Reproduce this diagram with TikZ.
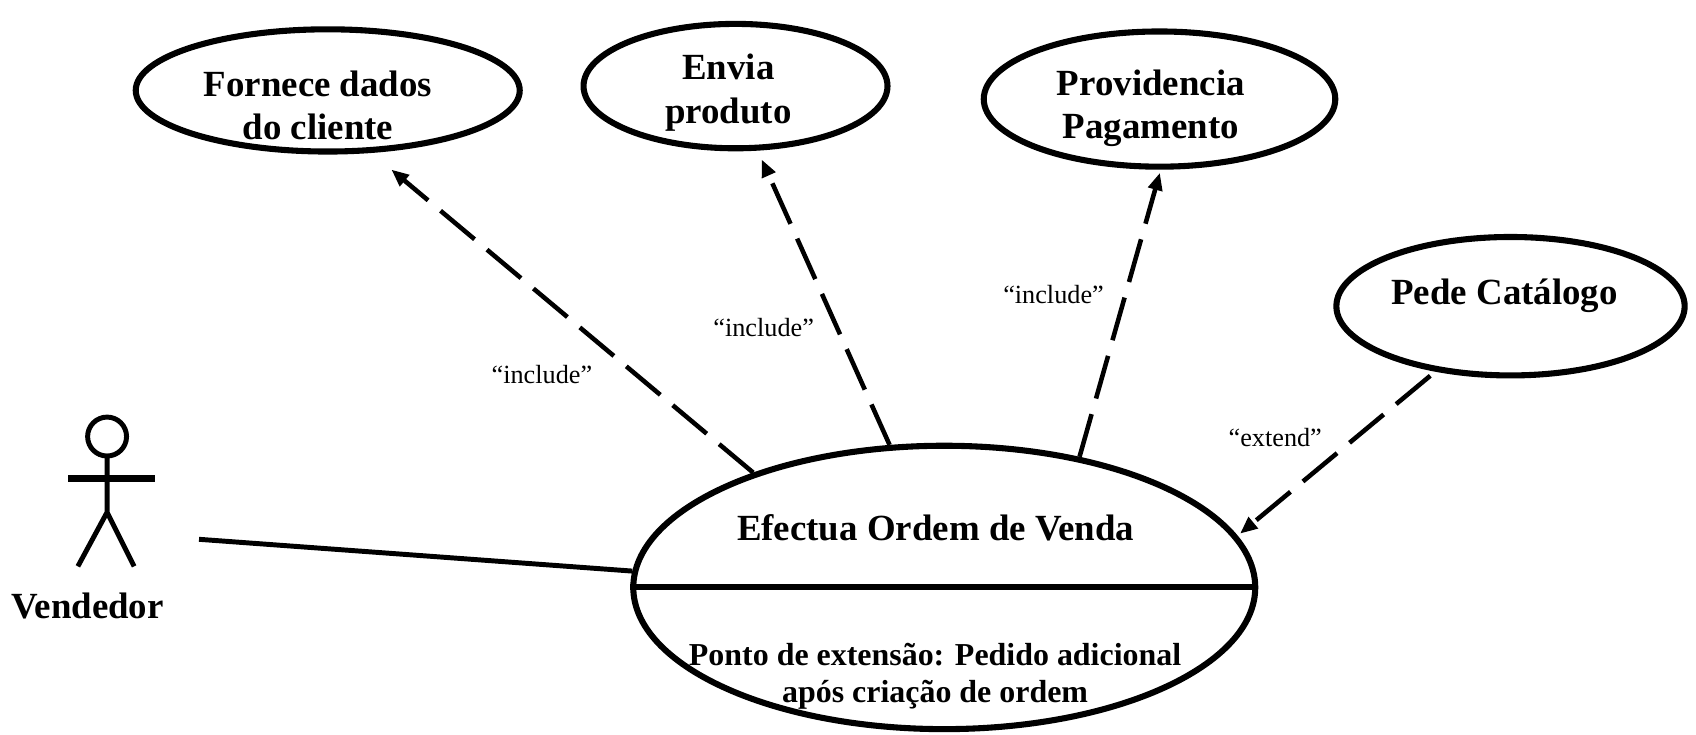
\documentclass[tikz,border=0pt]{standalone}
\usepackage{fontspec}
\setmainfont{Liberation Serif}
\usetikzlibrary{shapes.geometric,arrows.meta}
\begin{document}
\begin{tikzpicture}[
  caso/.style={draw, ellipse, line width=1.6pt, inner sep=0pt},
  titulo/.style={font=\fontsize{9.7}{11.4}\selectfont\bfseries, align=center},
  inclui/.style={line width=1.2pt, dash pattern=on 0.41cm off 0.15cm, -{Triangle[length=0.16cm,width=0.13cm]}},
  estereo/.style={font=\fontsize{6.9}{8}\selectfont},
  ]
\useasboundingbox (0,0) rectangle (15.68,6.786);

\node[caso, minimum width=3.55cm, minimum height=1.13cm] (fornece) at (3.03,5.95) {};
\node[caso, minimum width=2.81cm, minimum height=1.15cm] (envia) at (6.80,5.99) {};
\node[caso, minimum width=3.25cm, minimum height=1.25cm] (pagamento) at (10.72,5.87) {};
\node[caso, minimum width=3.22cm, minimum height=1.28cm] (catalogo) at (13.965,3.955) {};
\node[caso, minimum width=5.75cm, minimum height=2.62cm] (ordem) at (8.73,1.355) {};
\draw[line width=1.6pt] (ordem.west) -- (ordem.east);

\node[titulo] (tfornece) at (2.94,5.81) {Fornece dados\\do cliente};
\node[titulo] (tenvia) at (6.735,5.93) {Envia\\produto};
\node[titulo] (tpagamento) at (10.64,5.785) {Providencia\\Pagamento};
\node[titulo] (tcatalogo) at (13.91,4.05) {Pede Catálogo};
\node[titulo] (tordem) at (8.65,1.91) {Efectua Ordem de Venda};
\node[titulo, font=\fontsize{8.4}{9.7}\selectfont\bfseries] (tponto) at (8.645,0.53) {Ponto de extensão: Pedido adicional\\após criação de ordem};

\draw[line width=1.3pt] (0.99,2.75) circle (0.18);
\draw[line width=1.8pt] (0.63,2.36) -- (1.43,2.36);
\draw[line width=1.3pt] (0.99,2.57) -- (0.99,2.05) -- (0.72,1.55)
  (0.99,2.05) -- (1.24,1.55);
\node[titulo] (vendedor) at (0.81,1.18) {Vendedor};
\coordinate (mao) at (1.84,1.80);
\draw[line width=1.3pt] (mao) -- (ordem.177);

\draw[inclui, shorten >=0.24cm] (ordem.149) -- (fornece.305);
\draw[inclui, shorten >=0.09cm] (ordem.111) -- (envia.289);
\draw[inclui, shorten >=0.03cm] (ordem.44) -- (pagamento.271);
\draw[inclui, shorten <=0.06cm, shorten >=0.03cm] (catalogo.221) -- (ordem.10);

\node[estereo] (r1) at (5.01,3.32) {“include”};
\node[estereo] (r2) at (7.06,3.76) {“include”};
\node[estereo] (r3) at (9.74,4.06) {“include”};
\node[estereo] (r4) at (11.79,2.74) {“extend”};
\end{tikzpicture}
\end{document}
